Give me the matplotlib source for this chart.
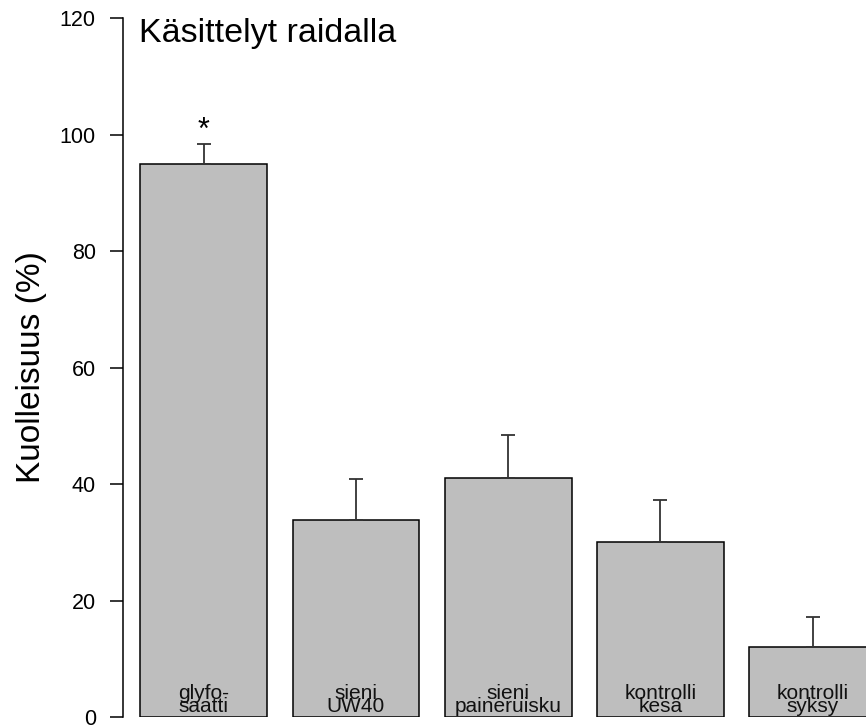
import matplotlib.pyplot as plt
import numpy as np

plt.rc("font", family=["Liberation Sans", "DejaVu Sans"])

# data
top_lines = ["glyfo-", "sieni", "sieni", "kontrolli", "kontrolli"]
bottom_lines = ["saatti", "UW40", "paineruisku", "kesä", "syksy"]
mortality = [95.0, 33.9, 41.1, 30.0, 12.1]
error = [3.4, 7.0, 7.3, 7.3, 5.1]
yticks = [0, 20, 40, 60, 80, 100, 120]

fig = plt.figure(figsize=(8.66, 7.27), dpi=100)
# axes run off the right edge, so the last bar is cut like in the original
ax = fig.add_axes([0.1417, 0.01376, 0.8583, 0.9614])

xs = np.arange(len(mortality))
ax.bar(xs, mortality, width=0.833, color="#bebebe", edgecolor="black", lw=1.1, zorder=2)
ax.errorbar(xs, mortality, yerr=[np.zeros(len(error)), error], fmt="none",
            ecolor="#333333", elinewidth=1.3, capsize=5, capthick=1.3, zorder=3)

for x, t, b in zip(xs, top_lines, bottom_lines):
    ax.text(x, 3.1, t, ha="center", va="baseline", fontsize=15, color="#111111", zorder=4)
    ax.text(x, 0.85, b, ha="center", va="baseline", fontsize=15, color="#111111", zorder=4)

# significance mark
ax.text(xs[0], 99.2, "*", ha="center", va="baseline", fontsize=22)

ax.text(0.022, 0.966, "Käsittelyt raidalla", transform=ax.transAxes,
        ha="left", va="baseline", fontsize=24.5)

ax.set_xlim(-0.532, 4.351)
ax.set_ylim(0, 120)
ax.set_xticks([])
ax.set_yticks(yticks)
ax.tick_params(axis="y", direction="out", length=9.4, width=1.1, pad=10, labelsize=15.5)

ax.spines["right"].set_visible(False)
ax.spines["top"].set_visible(False)
ax.spines["bottom"].set_visible(False)
ax.spines["left"].set_bounds(0, 120)
ax.spines["left"].set_linewidth(1.1)

fig.text(0.036, 0.4945, "Kuolleisuus (%)", rotation=90, ha="center", va="center", fontsize=24)

plt.savefig("out.png", dpi=100)
